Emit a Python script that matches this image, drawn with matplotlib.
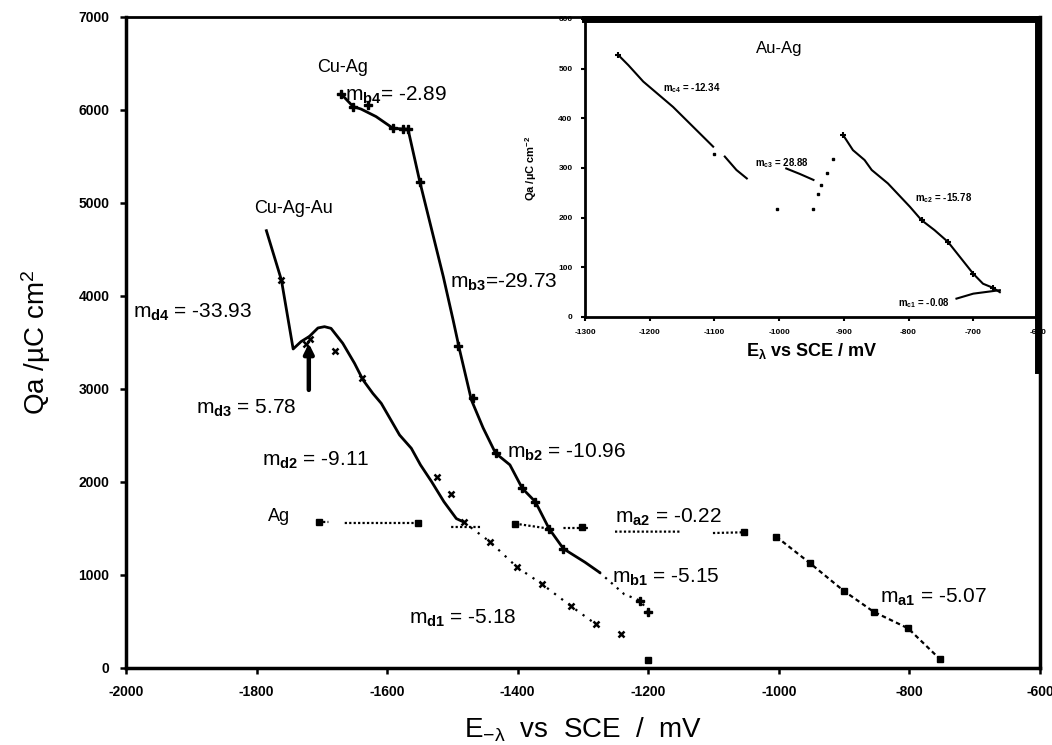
import numpy as np
import matplotlib
matplotlib.use('Agg')
import matplotlib.pyplot as plt
from matplotlib.lines import Line2D

plt.rcParams['font.family'] = ['Liberation Sans', 'DejaVu Sans']
plt.rcParams['mathtext.fontset'] = 'custom'
plt.rcParams['mathtext.rm'] = 'Liberation Sans'
plt.rcParams['mathtext.it'] = 'Liberation Sans:italic'
plt.rcParams['mathtext.bf'] = 'Liberation Sans:bold'
plt.rcParams['mathtext.default'] = 'regular'
plt.rcParams['axes.unicode_minus'] = False

nan = np.nan

# ---- Ag (a) ----
ag_plateau_x = [-1705, -1690, nan, -1665, -1553, nan, -1502, -1456, nan, -1404, -1352, nan,
                -1330, -1290, nan, -1251, -1149, nan, -1101, -1053]
ag_plateau_y = [1570, 1570, nan, 1559, 1559, nan, 1516, 1516, nan, 1552, 1498, nan,
                1505, 1505, nan, 1466, 1466, nan, 1451, 1459]
ag_a1_x = [-1004, -952, -901, -855, -802, -753]
ag_a1_y = [1412, 1125, 831, 605, 426, 93]
ag_sq_x = [-1705, -1553, -1404, -1302, -1053, -1004, -952, -901, -855, -802, -753, -1200]
ag_sq_y = [1570, 1559, 1552, 1520, 1459, 1412, 1125, 831, 605, 426, 93, 86]

# ---- Cu-Ag (b) ----
cuag_x = [-1670, -1652, -1640, -1617, -1591, -1568, -1550, -1514, -1499, -1489, -1471,
          -1453, -1434, -1412, -1393, -1373, -1352, -1330, -1297, -1275]
cuag_y = [6168, 6036, 6010, 5929, 5803, 5792, 5229, 4208, 3742, 3419, 2882,
          2581, 2310, 2184, 1931, 1787, 1498, 1282, 1137, 1029]
cuag_b1_x = [-1275, -1237, -1212, -1200]
cuag_b1_y = [1029, 794, 722, 605]
cuag_pts_x = [-1670, -1652, -1630, -1591, -1575, -1568, -1550, -1491, -1469, -1434,
              -1393, -1373, -1352, -1330, -1212, -1200]
cuag_pts_y = [6168, 6036, 6050, 5803, 5800, 5792, 5229, 3466, 2906, 2310,
              1931, 1787, 1498, 1282, 722, 605]

# ---- Cu-Ag-Au (d) ----
cuagau_x = [-1785, -1762, -1744, -1732, -1719, -1706, -1696, -1686, -1668, -1650, -1637,
            -1622, -1609, -1581, -1563, -1549, -1532, -1513, -1494, -1483]
cuagau_y = [4702, 4172, 3430, 3509, 3566, 3656, 3670, 3652, 3491, 3276, 3097,
            2953, 2845, 2505, 2362, 2184, 2004, 1787, 1606, 1570]
cuagau_d1_x = [-1483, -1442, -1401, -1363, -1319, -1280]
cuagau_d1_y = [1570, 1354, 1083, 903, 668, 469]
cuagau_pts_x = [-1762, -1725, -1718, -1680, -1639, -1524, -1502, -1483, -1442, -1401,
                -1363, -1319, -1280, -1242]
cuagau_pts_y = [4172, 3480, 3540, 3406, 3123, 2058, 1866, 1570, 1354, 1083,
                903, 668, 469, 361]

# ---- inset: Au-Ag (c) ----
auag_c4_x = [-1249, -1233, -1210, -1164, -1133, -1102, nan, -1084, -1066, -1050]
auag_c4_y = [528, 507, 474, 423, 383, 343, nan, 323, 296, 279]
auag_c3_x = [-989, -968, -947]
auag_c3_y = [299, 288, 276]
auag_dots_x = [-1101, -935, -940, -926, -917, -1003, -948]
auag_dots_y = [329, 265, 247, 289, 319, 218, 218]
auag_c2_x = [-901, -886, -868, -857, -832, -798, -780, -760, -739, -700, -685, -670, -659]
auag_c2_y = [366, 336, 316, 296, 269, 222, 195, 175, 151, 87, 67, 59, 50]
auag_c1_x = [-726, -700, -659]
auag_c1_y = [37, 47, 54]
auag_pts_x = [-1249, -901, -780, -739, -700, -670]
auag_pts_y = [528, 366, 195, 151, 87, 59]

fig = plt.figure(figsize=(10.52, 7.45), dpi=100)
ax = fig.add_axes([0.1198, 0.1034, 0.8688, 0.8738])

# Ag
ax.plot(ag_plateau_x, ag_plateau_y, color='k', lw=1.6, ls=(0, (1, 1)))
ax.plot(ag_a1_x, ag_a1_y, color='k', lw=1.6, ls=(0, (2, 1.5)))
ax.plot(ag_sq_x, ag_sq_y, ls='none', marker='s', ms=5, color='k')

# Cu-Ag
ax.plot(cuag_x, cuag_y, color='k', lw=2)
ax.plot(cuag_b1_x, cuag_b1_y, color='k', lw=1.6, ls=(0, (1, 2.5)))
ax.plot(cuag_pts_x, cuag_pts_y, ls='none', marker='P', ms=6, color='k')

# Cu-Ag-Au
ax.plot(cuagau_x, cuagau_y, color='k', lw=2)
ax.plot(cuagau_d1_x, cuagau_d1_y, color='k', lw=1.6, ls=(0, (1, 3)))
ax.plot(cuagau_pts_x, cuagau_pts_y, ls='none', marker='x', ms=4, mew=1.8, color='k')

ax.annotate('', xy=(-1720, 3520), xytext=(-1720, 2960),
            arrowprops=dict(arrowstyle='-|>', lw=3.2, color='k', mutation_scale=14))

ax.set_xlim(-2000, -600)
ax.set_ylim(0, 7000)
ax.set_xticks(np.arange(-2000, -599, 200))
ax.set_yticks(np.arange(0, 7001, 1000))
ax.tick_params(direction='out', length=4, width=1.8, labelsize=10, pad=8)
for lab in ax.get_xticklabels() + ax.get_yticklabels():
    lab.set_fontweight('bold')
for side in ['left', 'bottom', 'right']:
    ax.spines[side].set_linewidth(2.5)
ax.spines['top'].set_linewidth(2)

ax.set_xlabel(r'E$_{-λ}$  vs  SCE  /  mV', fontsize=20, labelpad=12)
ax.set_ylabel(r'Qa /µC cm$^2$', fontsize=20, labelpad=18)

lbl = dict(fontsize=15, color='k', va='center', ha='left')
ax.text(-1669, 6462, 'Cu-Ag', fontsize=13, ha='center', va='center')
ax.text(-1744, 4946, 'Cu-Ag-Au', fontsize=13, ha='center', va='center')
ax.text(-1783, 1624, 'Ag', fontsize=13, ha='left', va='center')
ax.text(-1665, 6161, r'm$_{\mathbf{b4}}$= -2.89', **lbl)
ax.text(-1504, 4150, r'm$_{\mathbf{b3}}$=-29.73', **lbl)
ax.text(-1417, 2323, r'm$_{\mathbf{b2}}$ = -10.96', **lbl)
ax.text(-1256, 978, r'm$_{\mathbf{b1}}$ = -5.15', **lbl)
ax.text(-1990, 3828, r'm$_{\mathbf{d4}}$ = -33.93', **lbl)
ax.text(-1893, 2796, r'm$_{\mathbf{d3}}$ = 5.78', **lbl)
ax.text(-1792, 2237, r'm$_{\mathbf{d2}}$ = -9.11', **lbl)
ax.text(-1567, 538, r'm$_{\mathbf{d1}}$ = -5.18', **lbl)
ax.text(-1251, 1624, r'm$_{\mathbf{a2}}$ = -0.22', **lbl)
ax.text(-845, 763, r'm$_{\mathbf{a1}}$ = -5.07', **lbl)

# inset
ins = fig.add_axes([0.5561, 0.5745, 0.4306, 0.4])
ins.plot(auag_c4_x, auag_c4_y, color='k', lw=1.5)
ins.plot(auag_c3_x, auag_c3_y, color='k', lw=1.5)
ins.plot(auag_c2_x, auag_c2_y, color='k', lw=1.5)
ins.plot(auag_c1_x, auag_c1_y, color='k', lw=1.5)
ins.plot(auag_dots_x, auag_dots_y, ls='none', marker='s', ms=2, color='k')
ins.plot(auag_pts_x, auag_pts_y, ls='none', marker='+', ms=4, mew=1.5, color='k')
ins.set_xlim(-1300, -600)
ins.set_ylim(0, 600)
ins.set_xticks(np.arange(-1300, -599, 100))
ins.set_yticks(np.arange(0, 601, 100))
ins.tick_params(direction='out', length=3, width=1.5, labelsize=6, pad=6)
for lab in ins.get_xticklabels() + ins.get_yticklabels():
    lab.set_fontweight('bold')
ins.spines['left'].set_linewidth(2)
ins.spines['bottom'].set_linewidth(2)
ins.spines['top'].set_linewidth(5)
ins.spines['right'].set_linewidth(5)
ins.set_xlabel(r'E$_{λ}$ vs SCE / mV', fontsize=13, fontweight='bold', labelpad=3)
ins.set_ylabel(r'Qa /µC cm$^{-2}$', fontsize=8, fontweight='bold', labelpad=14)

ins.text(-1000, 541, 'Au-Ag', fontsize=12, ha='center', va='center')
ilbl = dict(fontsize=7, fontweight='bold', ha='left', va='center')
ins.text(-1179, 460, r'm$_{\mathbf{c4}}$ = -12.34', **ilbl)
ins.text(-1038, 309, r'm$_{\mathbf{c3}}$ = 28.88', **ilbl)
ins.text(-790, 239, r'm$_{\mathbf{c2}}$ = -15.78', **ilbl)
ins.text(-816, 27, r'm$_{\mathbf{c1}}$ = -0.08', **ilbl)

# heavy frame edge running down past the inset
fig.add_artist(Line2D([0.9867, 0.9867], [0.5745, 0.503], color='k', lw=5,
                      transform=fig.transFigure))

fig.savefig('out.png', dpi=100)
